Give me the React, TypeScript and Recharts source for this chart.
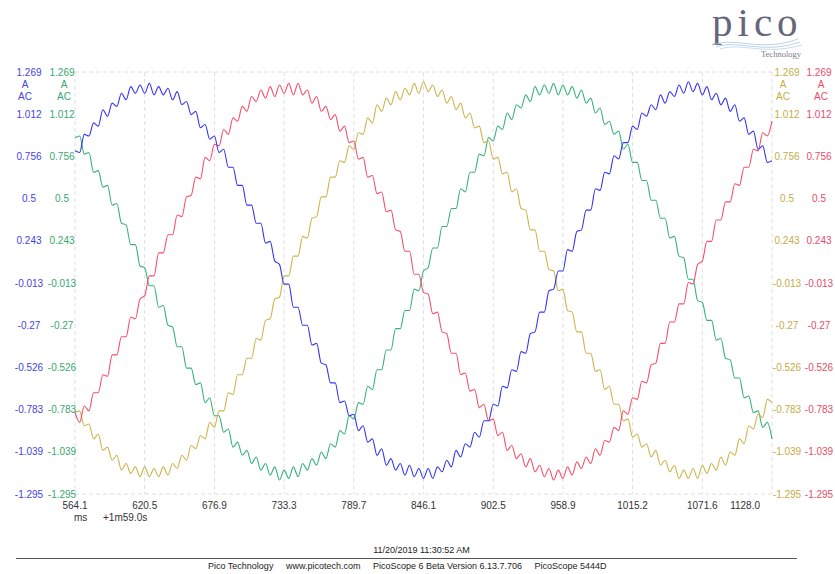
import { CartesianGrid, Line, LineChart, XAxis, YAxis } from 'recharts';

// scope capture: one sample every STEP_MS starting at START_MS
const START_MS = 564.1;
const STEP_MS = 3.7593;

const blueA = [
  0.79, 0.78, 0.89, 0.88, 0.96, 0.94, 1.04, 1.0, 1.08, 1.06,
  1.14, 1.1, 1.18, 1.14, 1.19, 1.14, 1.2, 1.13, 1.18, 1.13,
  1.17, 1.1, 1.15, 1.07, 1.09, 1.01, 1.03, 0.93, 0.95, 0.86,
  0.88, 0.78, 0.8, 0.69, 0.69, 0.58, 0.58, 0.46, 0.46, 0.35,
  0.35, 0.23, 0.24, 0.12, 0.1, -0.02, -0.02, -0.16, -0.16, -0.27,
  -0.27, -0.39, -0.38, -0.5, -0.51, -0.62, -0.62, -0.74, -0.73, -0.82,
  -0.81, -0.91, -0.88, -0.98, -0.96, -1.06, -1.02, -1.12, -1.08, -1.15,
  -1.11, -1.18, -1.12, -1.19, -1.14, -1.2, -1.14, -1.2, -1.13, -1.16,
  -1.09, -1.13, -1.03, -1.07, -0.99, -1.01, -0.92, -0.95, -0.85, -0.85,
  -0.75, -0.76, -0.64, -0.65, -0.54, -0.55, -0.43, -0.44, -0.32, -0.31,
  -0.19, -0.19, -0.06, -0.05, 0.06, 0.06, 0.19, 0.18, 0.3, 0.31,
  0.43, 0.43, 0.56, 0.55, 0.66, 0.65, 0.76, 0.74, 0.84, 0.84,
  0.94, 0.92, 1.02, 1.0, 1.07, 1.04, 1.13, 1.08, 1.15, 1.12,
  1.19, 1.14, 1.21, 1.15, 1.2, 1.13, 1.18, 1.1, 1.14, 1.07,
  1.11, 1.03, 1.07, 0.97, 0.99, 0.89, 0.91, 0.8, 0.82, 0.72,
  0.73,
];

const yellowA = [
  -0.8, -0.79, -0.88, -0.87, -0.96, -0.93, -1.03, -1.01, -1.09, -1.06,
  -1.15, -1.11, -1.17, -1.13, -1.19, -1.13, -1.19, -1.14, -1.19, -1.13,
  -1.18, -1.11, -1.14, -1.06, -1.09, -1.0, -1.02, -0.94, -0.96, -0.86,
  -0.89, -0.79, -0.79, -0.68, -0.69, -0.57, -0.57, -0.47, -0.47, -0.35,
  -0.36, -0.24, -0.23, -0.11, -0.1, 0.03, 0.03, 0.15, 0.15, 0.27,
  0.26, 0.38, 0.39, 0.51, 0.51, 0.63, 0.63, 0.73, 0.72, 0.82,
  0.8, 0.9, 0.89, 0.99, 0.96, 1.07, 1.03, 1.11, 1.07, 1.15,
  1.1, 1.17, 1.13, 1.2, 1.14, 1.21, 1.15, 1.19, 1.12, 1.16,
  1.08, 1.12, 1.04, 1.08, 0.99, 1.02, 0.93, 0.94, 0.84, 0.85,
  0.74, 0.75, 0.65, 0.66, 0.54, 0.56, 0.44, 0.43, 0.31, 0.31,
  0.18, 0.18, 0.07, 0.06, -0.06, -0.05, -0.18, -0.19, -0.31, -0.31,
  -0.44, -0.44, -0.55, -0.54, -0.66, -0.64, -0.75, -0.75, -0.85, -0.84,
  -0.95, -0.93, -1.01, -0.99, -1.07, -1.03, -1.12, -1.09, -1.16, -1.12,
  -1.2, -1.15, -1.2, -1.14, -1.2, -1.12, -1.17, -1.11, -1.15, -1.07,
  -1.12, -1.04, -1.06, -0.96, -0.99, -0.88, -0.9, -0.81, -0.83, -0.72,
  -0.74,
];

const redA = [
  -0.8, -0.86, -0.76, -0.79, -0.68, -0.68, -0.57, -0.58, -0.45, -0.45,
  -0.34, -0.34, -0.22, -0.23, -0.11, -0.09, 0.03, 0.03, 0.17, 0.17,
  0.28, 0.28, 0.4, 0.39, 0.51, 0.52, 0.63, 0.62, 0.75, 0.73,
  0.83, 0.82, 0.92, 0.89, 0.99, 0.97, 1.06, 1.03, 1.12, 1.09,
  1.16, 1.11, 1.18, 1.12, 1.19, 1.14, 1.2, 1.13, 1.2, 1.13,
  1.16, 1.08, 1.12, 1.03, 1.06, 0.98, 1.01, 0.91, 0.94, 0.84,
  0.85, 0.74, 0.75, 0.63, 0.64, 0.53, 0.54, 0.42, 0.43, 0.31,
  0.3, 0.18, 0.18, 0.04, 0.04, -0.07, -0.08, -0.2, -0.19, -0.31,
  -0.32, -0.44, -0.44, -0.57, -0.56, -0.67, -0.66, -0.77, -0.75, -0.85,
  -0.84, -0.94, -0.92, -1.03, -1.0, -1.08, -1.05, -1.13, -1.08, -1.16,
  -1.12, -1.19, -1.14, -1.21, -1.15, -1.2, -1.13, -1.18, -1.1, -1.14,
  -1.07, -1.11, -1.02, -1.06, -0.97, -0.98, -0.89, -0.91, -0.79, -0.81,
  -0.71, -0.72, -0.61, -0.62, -0.51, -0.5, -0.38, -0.38, -0.25, -0.25,
  -0.14, -0.14, -0.01, -0.02, 0.1, 0.12, 0.24, 0.24, 0.37, 0.37,
  0.48, 0.48, 0.59, 0.58, 0.69, 0.69, 0.8, 0.79, 0.9, 0.88,
  0.97,
];

const greenA = [
  0.87, 0.88, 0.77, 0.78, 0.66, 0.67, 0.57, 0.58, 0.46, 0.47,
  0.35, 0.34, 0.22, 0.22, 0.09, 0.08, -0.03, -0.03, -0.16, -0.15,
  -0.27, -0.28, -0.4, -0.4, -0.53, -0.53, -0.63, -0.62, -0.74, -0.71,
  -0.82, -0.82, -0.92, -0.9, -1.01, -0.98, -1.06, -1.03, -1.11, -1.07,
  -1.15, -1.11, -1.18, -1.13, -1.21, -1.15, -1.2, -1.13, -1.19, -1.11,
  -1.15, -1.08, -1.12, -1.04, -1.08, -0.99, -1.01, -0.91, -0.93, -0.82,
  -0.84, -0.74, -0.75, -0.64, -0.66, -0.54, -0.54, -0.42, -0.42, -0.29,
  -0.29, -0.18, -0.18, -0.05, -0.06, 0.06, 0.08, 0.2, 0.2, 0.33,
  0.33, 0.44, 0.44, 0.56, 0.54, 0.66, 0.66, 0.77, 0.76, 0.87,
  0.85, 0.94, 0.92, 1.02, 0.98, 1.07, 1.05, 1.13, 1.09, 1.18,
  1.13, 1.19, 1.14, 1.2, 1.13, 1.19, 1.13, 1.18, 1.11, 1.16,
  1.08, 1.11, 1.02, 1.05, 0.95, 0.97, 0.89, 0.91, 0.8, 0.83,
  0.72, 0.72, 0.61, 0.61, 0.49, 0.49, 0.38, 0.38, 0.26, 0.27,
  0.15, 0.14, 0.01, 0.01, -0.12, -0.13, -0.24, -0.24, -0.36, -0.35,
  -0.47, -0.48, -0.59, -0.59, -0.71, -0.7, -0.8, -0.79, -0.89, -0.86,
  -0.96,
];

const timeTicks = [564.1, 620.5, 676.9, 733.3, 789.7, 846.1, 902.5, 958.9, 1015.2, 1071.6, 1128.0];
const ampTicks = [1.269, 1.012, 0.756, 0.5, 0.243, -0.013, -0.27, -0.526, -0.783, -1.039, -1.295];

const LINE = { blue: '#3434f0', green: '#36b27a', yellow: '#ccb44e', red: '#f4506c' };
const TXT = { blue: '#4444e4', green: '#38a86e', yellow: '#c4ad48', red: '#e84c68' };
const FONT = '"Liberation Sans", Arial, sans-serif';

const rows = blueA.map((b, i) => ({
  t: Math.round((START_MS + i * STEP_MS) * 100) / 100,
  blue: b,
  red: redA[i],
  yellow: yellowA[i],
  green: greenA[i],
}));

function PairTick(props: any) {
  const { y, payload, side } = props;
  const v = payload.value as number;
  const label = String(v);
  const [x1, x2, c1, c2] =
    side === 'left'
      ? [29, 62, TXT.blue, TXT.green]
      : [787, 819, TXT.yellow, TXT.red];
  const top = v === ampTicks[0];
  return (
    <g fontSize={10} fontFamily={FONT}>
      <text x={x1} y={y + 3.5} fill={c1} textAnchor="middle">{label}</text>
      <text x={x2} y={y + 3.5} fill={c2} textAnchor="middle">{label}</text>
      {top && (
        <>
          <text x={x1 - 4} y={y + 15.5} fill={c1} textAnchor="middle">A</text>
          <text x={x2 + 2} y={y + 15.5} fill={c2} textAnchor="middle">A</text>
          <text x={x1 - 4} y={y + 27.5} fill={c1} textAnchor="middle">AC</text>
          <text x={x2 + 2} y={y + 27.5} fill={c2} textAnchor="middle">AC</text>
        </>
      )}
    </g>
  );
}

function TimeTick(props: any) {
  const { x, payload } = props;
  const v = payload.value as number;
  const last = v === timeTicks[timeTicks.length - 1];
  return (
    <text
      x={last ? x - 12 : x}
      y={509}
      fontSize={10}
      fontFamily={FONT}
      fill="#333"
      textAnchor={last ? 'end' : 'middle'}
    >
      {v.toFixed(1)}
    </text>
  );
}

export default function App() {
  return (
    <div
      style={{
        position: 'absolute',
        left: 0,
        top: 0,
        width: 835,
        height: 574,
        background: '#fff',
        fontFamily: FONT,
        overflow: 'hidden',
      }}
    >
      <LineChart width={835} height={574} data={rows} margin={{ top: 72, right: 0, bottom: 60, left: 0 }}>
        <CartesianGrid stroke="#dedede" strokeDasharray="4 3" />
        <XAxis
          dataKey="t"
          type="number"
          domain={[564.1, 1128.0]}
          ticks={timeTicks}
          interval={0}
          height={20}
          axisLine={false}
          tickLine={false}
          tick={<TimeTick />}
        />
        <YAxis
          yAxisId="left"
          width={75}
          domain={[-1.295, 1.269]}
          ticks={ampTicks}
          interval={0}
          axisLine={false}
          tickLine={false}
          allowDataOverflow
          tick={(p: any) => <PairTick {...p} side="left" />}
        />
        <YAxis
          yAxisId="right"
          orientation="right"
          width={63}
          domain={[-1.295, 1.269]}
          ticks={ampTicks}
          interval={0}
          axisLine={false}
          tickLine={false}
          allowDataOverflow
          tick={(p: any) => <PairTick {...p} side="right" />}
        />
        <Line yAxisId="left" dataKey="green" stroke={LINE.green} strokeWidth={1.1} dot={false} type="monotone" isAnimationActive={false} />
        <Line yAxisId="right" dataKey="yellow" stroke={LINE.yellow} strokeWidth={1.1} dot={false} type="monotone" isAnimationActive={false} />
        <Line yAxisId="right" dataKey="red" stroke={LINE.red} strokeWidth={1.1} dot={false} type="monotone" isAnimationActive={false} />
        <Line yAxisId="left" dataKey="blue" stroke={LINE.blue} strokeWidth={1.1} dot={false} type="monotone" isAnimationActive={false} />
      </LineChart>

      {/* logo */}
      <svg width={135} height={64} style={{ position: 'absolute', left: 700, top: 0 }}>
        <text x={12} y={36} fontSize={41} fontFamily='"Liberation Serif", serif' fill="#66667a" letterSpacing={5}>
          pico
        </text>
        <path d="M 13 45 C 35 36, 60 53, 98 39" stroke="#a8c6e2" strokeWidth={0.8} fill="none" />
        <path d="M 16 47 C 38 39, 62 55, 100 42" stroke="#a8c6e2" strokeWidth={0.8} fill="none" />
        <path d="M 20 49 C 42 42, 64 56, 102 45" stroke="#b9d2ea" strokeWidth={0.8} fill="none" />
        <text x={61} y={57} fontSize={8.5} fontFamily='"Liberation Serif", serif' fill="#7c7c88">
          Technology
        </text>
      </svg>

      <div style={{ position: 'absolute', left: 74, top: 512, fontSize: 10, color: '#333' }}>ms</div>
      <div style={{ position: 'absolute', left: 103, top: 512, fontSize: 10, color: '#333' }}>+1m59.0s</div>

      <div style={{ position: 'absolute', left: 0, width: 843, top: 545, fontSize: 9, color: '#222', textAlign: 'center' }}>
        11/20/2019 11:30:52 AM
      </div>
      <div style={{ position: 'absolute', left: 16, width: 781, top: 558, height: 1, background: '#555' }} />
      <div style={{ position: 'absolute', left: 208, top: 561, fontSize: 9, color: '#222', whiteSpace: 'pre' }}>
        {'Pico Technology     www.picotech.com     PicoScope 6 Beta Version 6.13.7.706     PicoScope 5444D'}
      </div>
    </div>
  );
}
